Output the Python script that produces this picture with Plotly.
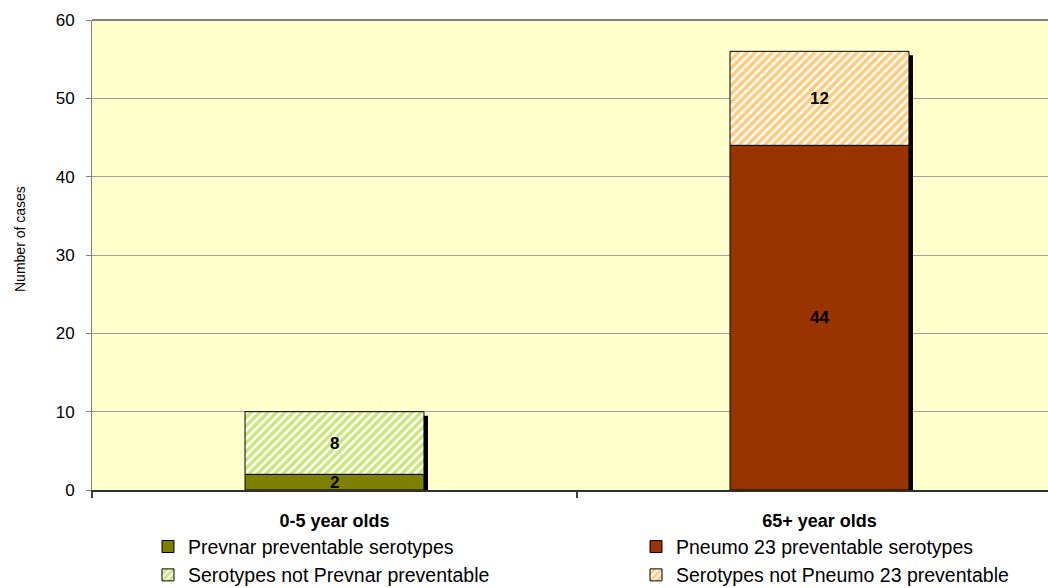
import plotly.graph_objects as go

# Age groups and case counts
categories = ["0-5 year olds", "65+ year olds"]
preventable = [2, 44]
not_preventable = [8, 12]
preventable_names = ["Prevnar preventable serotypes", "Pneumo 23 preventable serotypes"]
not_preventable_names = ["Serotypes not Prevnar preventable", "Serotypes not Pneumo 23 preventable"]
y_ticks = [0, 10, 20, 30, 40, 50, 60]

solid_colors = ["#808000", "#993300"]
hatch_colors = ["#99CC00", "#FF9900"]
legend_ids = ["legend", "legend2"]

FONT = "Arial, Liberation Sans, sans-serif"
BAR_W = 0.369
PX_X = 485.0          # pixels per category unit
PX_Y = 470.0 / 60.0   # pixels per case
SHADOW = 4            # drop shadow offset in px

fig = go.Figure()

# drop shadows behind each stack
totals = [a + b for a, b in zip(preventable, not_preventable)]
fig.add_trace(go.Bar(
    x=categories, y=[t - SHADOW / PX_Y for t in totals], base=[0, 0],
    width=BAR_W, offset=-BAR_W / 2 + SHADOW / PX_X,
    marker=dict(color="black", line=dict(width=0)),
    showlegend=False, hoverinfo="skip",
))

# each age group gets its own legend column
for i, cat in enumerate(categories):
    fig.add_trace(go.Bar(
        x=[cat], y=[preventable[i]], base=[0], name=preventable_names[i],
        width=BAR_W, offset=-BAR_W / 2,
        marker=dict(color=solid_colors[i], line=dict(color="black", width=1)),
        legend=legend_ids[i],
    ))
    fig.add_trace(go.Bar(
        x=[cat], y=[not_preventable[i]], base=[preventable[i]], name=not_preventable_names[i],
        width=BAR_W, offset=-BAR_W / 2,
        marker=dict(
            color="white",
            line=dict(color="black", width=1),
            pattern=dict(shape="/", fgcolor=hatch_colors[i], bgcolor="white",
                         size=6, solidity=0.6, fillmode="overlay"),
        ),
        legend=legend_ids[i],
    ))

# value labels centred in each segment
for i, cat in enumerate(categories):
    for base, val in ((0, preventable[i]), (preventable[i], not_preventable[i])):
        fig.add_annotation(
            x=cat, y=base + val / 2, text=f"<b>{val}</b>", showarrow=False,
            font=dict(family=FONT, size=17, color="black"),
        )

# y-axis title
fig.add_annotation(
    xref="paper", yref="paper", x=(20 - 92) / 956, y=(490 - 239) / 470,
    text="Number of cases", textangle=-90, showarrow=False,
    xanchor="center", yanchor="middle",
    font=dict(family=FONT, size=14, color="black"),
)

# top border of the plot area
fig.add_shape(type="line", xref="paper", yref="paper", x0=0, x1=1, y0=1, y1=1,
              line=dict(color="#808080", width=2), layer="above")

legend_style = dict(
    orientation="v", yanchor="top", y=-0.0795, xanchor="left",
    font=dict(family=FONT, size=19.5, color="black"),
    itemwidth=30, tracegroupgap=0, traceorder="normal",
    bgcolor="rgba(0,0,0,0)",
)

fig.update_layout(
    width=1048, height=588,
    margin=dict(l=92, r=0, t=20, b=98, autoexpand=False),
    paper_bgcolor="white", plot_bgcolor="#FFFFCC",
    barmode="overlay",
    font=dict(family=FONT, size=16, color="black"),
    showlegend=True,
    legend=dict(legend_style, x=(148 - 92) / 956),
    legend2=dict(legend_style, x=(636 - 92) / 956),
    xaxis=dict(
        type="category", categoryorder="array", categoryarray=categories,
        range=[-0.5, -0.5 + 956 / PX_X],
        tickson="boundaries", ticks="outside", ticklen=6, tickcolor="#404040", tickwidth=2,
        showline=True, linecolor="#303030", linewidth=2,
        showgrid=False, ticklabelstandoff=13,
        tickfont=dict(family=FONT, size=18, color="black", weight="bold"),
    ),
    yaxis=dict(
        range=[0, 60], tickvals=y_ticks, ticks="outside", ticklen=5, tickcolor="#808080",
        showline=True, linecolor="#808080", linewidth=1,
        showgrid=True, gridcolor="#A0A0A0", gridwidth=1, zeroline=False,
        tickfont=dict(family=FONT, size=17, color="black"),
        ticklabelstandoff=8,
    ),
)

fig.write_html("out.html")
